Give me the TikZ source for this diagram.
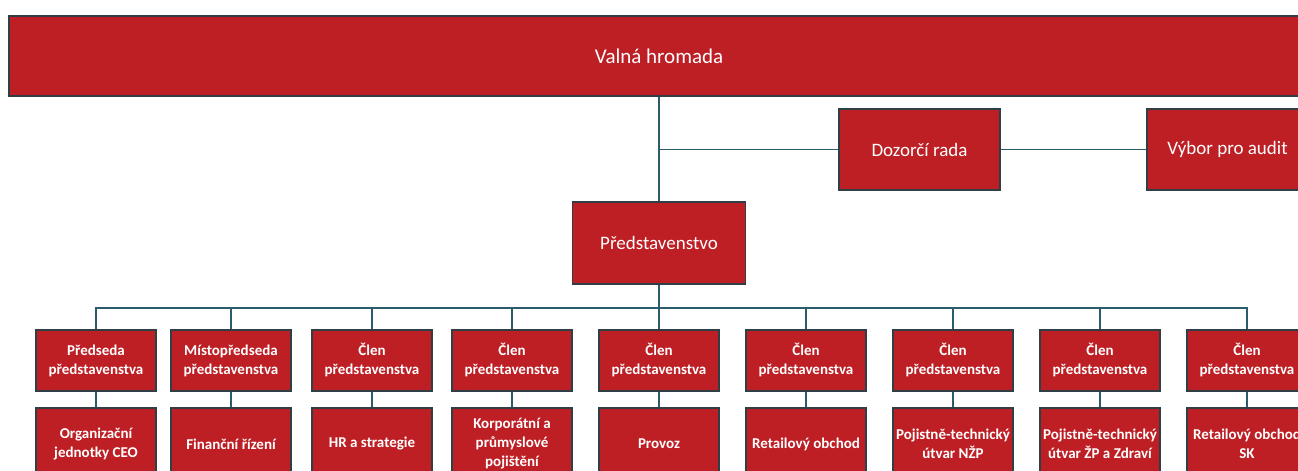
\documentclass[tikz,border=0pt]{standalone}
\usepackage{fontspec}
\setmainfont{Carlito}
\definecolor{boxred}{RGB}{189,31,36}
\definecolor{boxrim}{RGB}{48,62,70}
\definecolor{linkteal}{RGB}{42,92,108}
\begin{document}
\begin{tikzpicture}[x=1pt, y=-1pt,
    topbox/.style={draw=boxrim, line width=1.4pt, fill=boxred, text=white,
      inner sep=1pt, align=center, font=\fontsize{19}{23}\selectfont},
    rowbox/.style={draw=boxrim, line width=1.4pt, fill=boxred, text=white,
      inner sep=1pt, align=center, minimum width=120pt, minimum height=61pt,
      font=\fontsize{15}{19}\selectfont\bfseries},
    link/.style={draw=linkteal, line width=1.4pt}]
    \useasboundingbox (0,0) rectangle (1298,471);
    \clip (0,0) rectangle (1298,471);
    % top of the chart
    \node[topbox, minimum width=1300pt, minimum height=80pt,
      font=\fontsize{21}{25}\selectfont] (valna) at (659,56) {Valná hromada};
    \node[topbox, minimum width=161pt, minimum height=81pt] (dozor) at (919.5,149.5) {Dozorčí rada};
    \node[topbox, minimum width=161pt, minimum height=81pt] (vybor) at (1227.5,149.5) {Výbor pro audit};
    \node[topbox, minimum width=173pt, minimum height=82pt] (pred) at (659,243) {Představenstvo};
    \draw[link] (valna) -- (pred);
    \draw[link] (valna.south |- dozor.west) -- (dozor.west);
    \draw[link] (dozor) -- (vybor);
    % board members and their units
    \coordinate (bus) at (659,308);
    \draw[link] (pred.south) -- (bus);
    \foreach \i/\x/\lbl/\dept in {
        1/96/{Předseda\\představenstva}/{Organizační\\jednotky CEO},
        2/231/{Místopředseda\\představenstva}/{Finanční řízení},
        3/372/{Člen\\představenstva}/{HR a strategie},
        4/512/{Člen\\představenstva}/{Korporátní a\\průmyslové\\pojištění},
        5/659/{Člen\\představenstva}/{Provoz},
        6/806/{Člen\\představenstva}/{Retailový obchod},
        7/953/{Člen\\představenstva}/{Pojistně-technický\\útvar NŽP},
        8/1100/{Člen\\představenstva}/{Pojistně-technický\\útvar ŽP a Zdraví},
        9/1247/{Člen\\představenstva}/{Retailový obchod\\SK}} {
        \node[rowbox] (m\i) at (\x,360.5) {\lbl};
        \node[rowbox, minimum height=72pt] (u\i) at (\x,444) {\dept};
        \draw[link] (bus) -| (m\i.north);
        \draw[link] (m\i) -- (u\i);
    }
\end{tikzpicture}
\end{document}
